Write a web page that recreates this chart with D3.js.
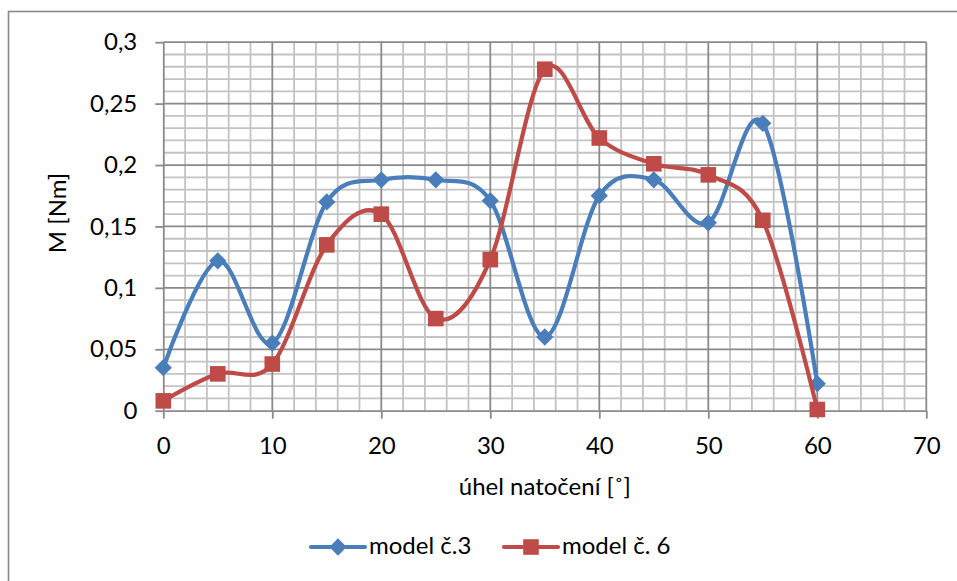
<!DOCTYPE html>
<html>
<head>
<meta charset="utf-8">
<script src="https://cdn.jsdelivr.net/npm/d3@7"></script>
<style>
  html, body { margin: 0; padding: 0; background: #fff; }
  svg { display: block; font-family: Lato, "Open Sans", sans-serif; }
</style>
</head>
<body>
<svg id="chart" width="957" height="581"></svg>
<script>
// angle of rotation [deg]
const angles = [0, 5, 10, 15, 20, 25, 30, 35, 40, 45, 50, 55, 60];
// torque M [Nm] per model
const model3 = [0.035, 0.122, 0.055, 0.170, 0.188, 0.188, 0.171, 0.060, 0.175, 0.188, 0.153, 0.234, 0.022];
const model6 = [0.008, 0.030, 0.038, 0.135, 0.160, 0.075, 0.123, 0.278, 0.222, 0.201, 0.192, 0.155, 0.001];
const seriesNames = ["model č.3", "model č. 6"];
const xTicks = [0, 10, 20, 30, 40, 50, 60, 70];
const yTicks = [0, 0.05, 0.1, 0.15, 0.2, 0.25, 0.3];
const xTitle = "úhel natočení [˚]";
const yTitle = "M [Nm]";

const svg = d3.select("#chart");
const W = 957, H = 581;
const FS = 24;
const plot = { left: 163.3, right: 926.3, top: 42.2, bottom: 410.7 };

const x = d3.scaleLinear().domain([0, 70]).range([plot.left, plot.right]);
const y = d3.scaleLinear().domain([0, 0.3]).range([plot.bottom, plot.top]);

// outer chart frame
svg.append("rect")
  .attr("x", 8.5).attr("y", 11.5)
  .attr("width", W + 20).attr("height", H + 20)
  .attr("fill", "#fff").attr("stroke", "#888").attr("stroke-width", 1.6);

const grid = svg.append("g");
// minor grid
grid.selectAll("line.vmin").data(d3.range(2, 70, 2).filter(v => v % 10 !== 0))
  .join("line").attr("class", "vmin")
  .attr("x1", d => x(d)).attr("x2", d => x(d))
  .attr("y1", plot.top).attr("y2", plot.bottom)
  .attr("stroke", "#c3c3c3").attr("stroke-width", 1.8);
grid.selectAll("line.hmin").data(d3.range(1, 30).filter(v => v % 5 !== 0).map(v => v / 100))
  .join("line").attr("class", "hmin")
  .attr("x1", plot.left).attr("x2", plot.right)
  .attr("y1", d => y(d)).attr("y2", d => y(d))
  .attr("stroke", "#c3c3c3").attr("stroke-width", 1.8);
// major grid
grid.selectAll("line.vmaj").data(xTicks.slice(1))
  .join("line").attr("class", "vmaj")
  .attr("x1", d => x(d)).attr("x2", d => x(d))
  .attr("y1", plot.top).attr("y2", plot.bottom)
  .attr("stroke", "#8a8a8a").attr("stroke-width", 1.8);
grid.selectAll("line.hmaj").data(yTicks.slice(1))
  .join("line").attr("class", "hmaj")
  .attr("x1", plot.left).attr("x2", plot.right)
  .attr("y1", d => y(d)).attr("y2", d => y(d))
  .attr("stroke", "#8a8a8a").attr("stroke-width", 1.8);

const fmt = d => String(+d.toFixed(2)).replace(".", ",");

// axes
const yAxis = svg.append("g")
  .attr("transform", `translate(${plot.left},0)`)
  .call(d3.axisLeft(y).tickValues(yTicks).tickFormat(fmt).tickSize(8).tickSizeOuter(0).tickPadding(18));
const xAxis = svg.append("g")
  .attr("transform", `translate(0,${plot.bottom})`)
  .call(d3.axisBottom(x).tickValues(xTicks).tickFormat(d3.format("d")).tickSize(8).tickSizeOuter(0));
[yAxis, xAxis].forEach(g => {
  g.select(".domain").attr("stroke", "#8a8a8a").attr("stroke-width", 1.8);
  g.selectAll(".tick line").attr("stroke", "#8a8a8a").attr("stroke-width", 1.8);
  g.selectAll(".tick text").attr("font-size", FS).attr("fill", "#000").attr("font-family", "Lato, sans-serif");
});
xAxis.selectAll(".tick text").attr("dy", null).attr("y", 43);

// axis titles
svg.append("text")
  .attr("x", (plot.left + plot.right) / 2).attr("y", 495)
  .attr("text-anchor", "middle").attr("font-size", FS).text(xTitle);
svg.append("text")
  .attr("transform", `translate(66,213) rotate(-90)`)
  .attr("text-anchor", "middle").attr("font-size", FS).text(yTitle);

// series
const series = [
  { name: seriesNames[0], values: model3, color: "#4a7ebb", marker: "diamond" },
  { name: seriesNames[1], values: model6, color: "#be4b48", marker: "square" }
];

const line = d3.line()
  .x((d, i) => x(angles[i]))
  .y(d => y(d))
  .curve(d3.curveCardinal.tension(0));

const diamond = d3.symbol().type(d3.symbolDiamond2).size(190);
const square = d3.symbol().type(d3.symbolSquare2).size(310);

series.forEach(s => {
  const g = svg.append("g");
  g.append("path").datum(s.values)
    .attr("d", line).attr("fill", "none")
    .attr("stroke", s.color).attr("stroke-width", 4.2)
    .attr("stroke-linejoin", "round").attr("stroke-linecap", "round");
  g.selectAll("path.m").data(s.values).join("path").attr("class", "m")
    .attr("transform", (d, i) => `translate(${x(angles[i])},${y(d)})`)
    .attr("d", s.marker === "diamond" ? diamond : square)
    .attr("fill", s.color);
});

// legend
const legend = svg.append("g");
const legendItems = [
  { s: series[0], x0: 311 },
  { s: series[1], x0: 504 }
];
const ly = 547;
legendItems.forEach(({ s, x0 }) => {
  legend.append("line")
    .attr("x1", x0).attr("x2", x0 + 54).attr("y1", ly).attr("y2", ly)
    .attr("stroke", s.color).attr("stroke-width", 4.2).attr("stroke-linecap", "round");
  legend.append("path")
    .attr("transform", `translate(${x0 + 27},${ly})`)
    .attr("d", s.marker === "diamond" ? diamond : square)
    .attr("fill", s.color);
  legend.append("text")
    .attr("x", x0 + 58).attr("y", ly + 7)
    .attr("font-size", FS).attr("fill", "#000").text(s.name);
});
</script>
</body>
</html>
